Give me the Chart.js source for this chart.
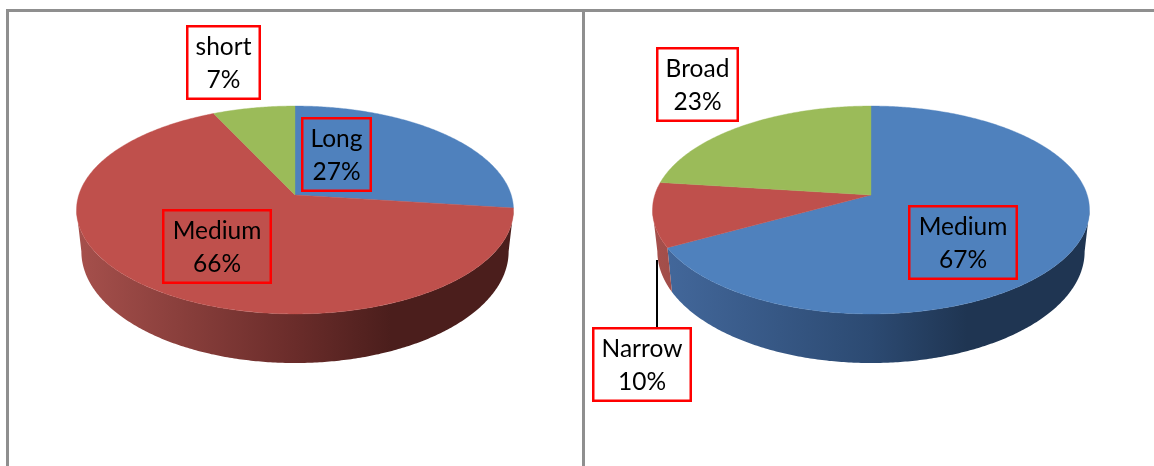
<!DOCTYPE html>
<html><head><meta charset="utf-8">
<style>
html,body{margin:0;padding:0;background:#fff;width:1154px;height:466px;overflow:hidden}
canvas{position:absolute;top:0}
.f{position:absolute;background:#8f8f8f}
</style>
<script src="https://cdn.jsdelivr.net/npm/chart.js@4"></script>
</head><body>
<div class="f" style="left:6px;top:9px;width:1148px;height:3px"></div>
<div class="f" style="left:6px;top:9px;width:2.5px;height:457px"></div>
<div class="f" style="left:582px;top:9px;width:3px;height:457px"></div>
<canvas id="a" width="584" height="466" style="left:0"></canvas>
<canvas id="b" width="570" height="466" style="left:584px"></canvas>
<script>
const lengthCategories = ['Long', 'Medium', 'short'];
const lengthValues = [27, 66, 7];
const widthCategories = ['Medium', 'Narrow', 'Broad'];
const widthValues = [67, 10, 23];
const topColors = ['#4F81BD', '#BF504C', '#9BBB59'];
const lengthColors = [topColors[0], topColors[1], topColors[2]];
const widthColors = [topColors[0], topColors[1], topColors[2]];

const wallStops = {
  '#4F81BD': ['#44699d', '#2c4a72', '#1f3552'],
  '#BF504C': ['#a6504c', '#6a2c2a', '#4b1e1c'],
  '#9BBB59': ['#7d964a', '#55672f', '#3f4c22']
};

const K = 216.2, K2 = 211.4, C = 0.1442;
const TH0 = Math.acos(-C), TH1 = 2 * Math.PI - TH0;
function topPt(g, t) {
  const u = Math.sin(t), v = Math.cos(t), d = 1 + C * v;
  return [g.cx + K * u / d, g.cy - 101.8 * v / d];
}
function botPt(g, t) {
  const u = Math.sin(t), v = Math.cos(t), d = 1 + C * v;
  return [g.cx + K2 * u / d, g.cy + (40.4 - 103.4 * v) / d];
}
function steps(a, b) { return Math.max(2, Math.ceil((b - a) / 0.01)); }

const pie3d = {
  id: 'pie3d',
  beforeDatasetDraw(chart, args, opts) {
    const ctx = chart.ctx, g = opts, meta = args.meta;
    ctx.save();
    meta.data.forEach((arc) => {
      const a = arc.startAngle + Math.PI / 2, b = arc.endAngle + Math.PI / 2;
      const s = Math.max(a, TH0), e = Math.min(b, TH1);
      if (e <= s) return;
      const color = arc.options.backgroundColor;
      const st = wallStops[color];
      const grad = ctx.createLinearGradient(g.cx - 218, 0, g.cx + 218, 0);
      grad.addColorStop(0, st[0]);
      grad.addColorStop(0.5, st[1]);
      grad.addColorStop(0.72, st[2]);
      grad.addColorStop(1, st[2]);
      ctx.beginPath();
      const n = steps(s, e);
      for (let i = 0; i <= n; i++) {
        const p = topPt(g, s + (e - s) * i / n);
        i ? ctx.lineTo(p[0], p[1]) : ctx.moveTo(p[0], p[1]);
      }
      for (let i = n; i >= 0; i--) {
        const p = botPt(g, s + (e - s) * i / n);
        ctx.lineTo(p[0], p[1]);
      }
      ctx.closePath();
      ctx.fillStyle = grad;
      ctx.fill();
    });
    meta.data.forEach((arc) => {
      const a = arc.startAngle + Math.PI / 2, b = arc.endAngle + Math.PI / 2;
      ctx.beginPath();
      ctx.moveTo(g.cx, g.cy);
      const n = steps(a, b);
      for (let i = 0; i <= n; i++) {
        const p = topPt(g, a + (b - a) * i / n);
        ctx.lineTo(p[0], p[1]);
      }
      ctx.closePath();
      ctx.fillStyle = arc.options.backgroundColor;
      ctx.strokeStyle = arc.options.backgroundColor;
      ctx.lineWidth = 0.4;
      ctx.fill();
      ctx.stroke();
    });
    ctx.restore();
    return false;
  },
  afterDraw(chart, args, opts) {
    const ctx = chart.ctx;
    const ds = chart.data.datasets[0];
    ctx.save();
    if (opts.leader) {
      ctx.strokeStyle = '#000';
      ctx.lineWidth = 2;
      ctx.beginPath();
      ctx.moveTo(opts.leader[0], opts.leader[1]);
      ctx.lineTo(opts.leader[0], opts.leader[2]);
      ctx.stroke();
    }
    ctx.font = '400 24.5px Lato, "Open Sans", sans-serif';
    ctx.textAlign = 'center';
    ctx.textBaseline = 'alphabetic';
    opts.boxes.forEach((bx, i) => {
      const [x0, y0, x1, y1] = bx;
      ctx.strokeStyle = '#FF0000';
      ctx.lineWidth = 2.5;
      ctx.strokeRect(x0 + 1.25, y0 + 1.25, x1 - x0 - 2.5, y1 - y0 - 2.5);
      ctx.fillStyle = '#000';
      const mx = (x0 + x1) / 2, my = (y0 + y1) / 2;
      ctx.fillText(chart.data.labels[i], mx, my - 8);
      ctx.fillText(ds.data[i] + '%', mx, my + 25);
    });
    ctx.restore();
  }
};

function make(id, labels, values, colors, geo) {
  return new Chart(document.getElementById(id), {
    type: 'pie',
    data: { labels, datasets: [{ data: values, backgroundColor: colors, borderWidth: 0 }] },
    options: {
      responsive: false, animation: false,
      layout: { padding: 20 },
      plugins: { legend: { display: false }, tooltip: { enabled: false }, pie3d: geo }
    },
    plugins: [pie3d]
  });
}

make('a', lengthCategories, lengthValues, lengthColors, {
  cx: 295, cy: 195,
  boxes: [[301, 117, 372, 192], [162, 209, 272, 284], [186, 25, 261, 100]]
});
make('b', widthCategories, widthValues, widthColors, {
  cx: 287, cy: 195,
  leader: [73, 260, 327],
  boxes: [[324, 205, 434, 280], [8, 327, 108, 402], [72, 47, 155, 122]]
});
</script>
</body></html>
